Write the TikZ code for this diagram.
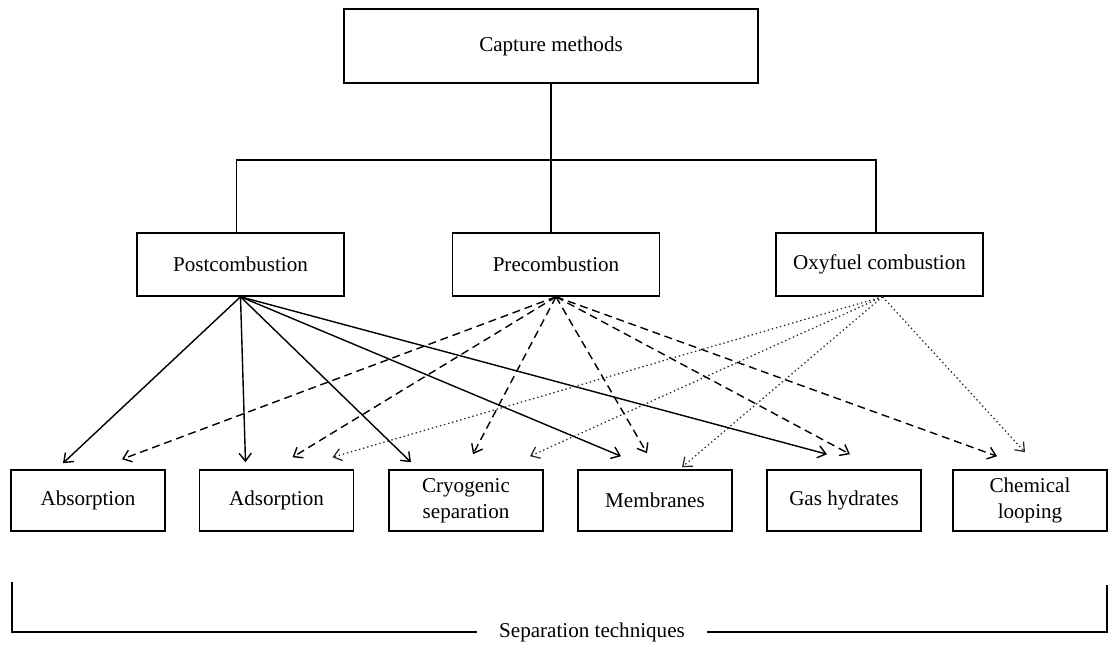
\documentclass[tikz,border=0pt]{standalone}
\usepackage{fontspec}
\setmainfont{Liberation Serif}
\usetikzlibrary{arrows.meta}

\begin{document}
\begin{tikzpicture} [x=0.02cm, y=-0.02cm, align=center, font=\fontsize{12}{15}\selectfont,
  box/.style={draw, line width=0.9pt, inner sep=0pt},
  capbox/.style={box, minimum width=8.28cm, minimum height=1.48cm},
  midbox/.style={box, minimum width=4.14cm, minimum height=1.26cm},
  lowbox/.style={box, minimum width=3.08cm, minimum height=1.22cm},
  post line/.style={->, line width=0.8pt},
  pre line/.style={->, line width=0.8pt, dash pattern=on 4.5pt off 2.8pt},
  oxy line/.style={->, line width=0.7pt, black!85, dash pattern=on 0.8pt off 1.6pt},
  >={Straight Barb[length=4.5pt, width=7pt]}]
\useasboundingbox (0, 0) rectangle (1108, 646);

\path (551, 46) node[capbox] (cap) {Capture methods}
      (240.5, 264.5) node[midbox] (post) {Postcombustion}
      (556, 264.5) node[midbox] (pre) {Precombustion}
      (879.5, 264.5) node[midbox] (oxy) {Oxyfuel combustion};

\path (88, 500.5) node[lowbox] (absorp) {Absorption}
      (276.5, 500.5) node[lowbox] (adsorp) {Adsorption}
      (466, 500.5) node[lowbox] (cryo) {Cryogenic\\separation}
      (655, 500.5) node[lowbox] (membr) {Membranes}
      (844, 500.5) node[lowbox] (gashyd) {Gas hydrates}
      (1030, 500.5) node[lowbox] (chemloop) {Chemical\\looping};

% tree of capture methods
\draw[line width=0.9pt] (cap.south) -- ++(0, 76) coordinate (fork);
\draw[line width=0.9pt] ([xshift=-0.08cm]post.north) |- (fork) -| ([xshift=-0.07cm]oxy.north);
\draw[line width=0.9pt] (fork) -- (fork |- pre.north);

% postcombustion
\draw[post line] (post.south) to ([shift={(-25, -6)}]absorp.north);
\draw[post line] (post.south) to ([shift={(-31, -7)}]adsorp.north);
\draw[post line] (post.south) to ([shift={(-55, -7)}]cryo.north);
\draw[post line] (post.south) to ([shift={(-34, -13)}]membr.north);
\draw[post line] (post.south) to ([shift={(-17, -15)}]gashyd.north);

% precombustion
\draw[pre line] (pre.south) to ([shift={(34, -10)}]absorp.north);
\draw[pre line] (pre.south) to ([shift={(16, -12)}]adsorp.north);
\draw[pre line] (pre.south) to ([shift={(7, -15)}]cryo.north);
\draw[pre line] (pre.south) to ([shift={(-8, -16)}]membr.north);
\draw[pre line] (pre.south) to ([shift={(6, -15)}]gashyd.north);
\draw[pre line] (pre.south) to ([shift={(-33, -13)}]chemloop.north);

% oxyfuel
\draw[oxy line] ([xshift=0.06cm]oxy.south) to ([shift={(56, -12)}]adsorp.north);
\draw[oxy line] ([xshift=0.06cm]oxy.south) to ([shift={(64, -13)}]cryo.north);
\draw[oxy line] ([xshift=0.06cm]oxy.south) to ([shift={(27, -2)}]membr.north);
\draw[oxy line] ([xshift=0.06cm]oxy.south) to ([shift={(-5, -17)}]chemloop.north);

% separation techniques
\coordinate (brleft) at (12, 582);
\coordinate (brright) at (1107, 585);
\path (592, 632) node[inner xsep=0.44cm, inner ysep=0pt] (septech) {Separation techniques};
\draw[line width=0.8pt] (septech.west) -| (brleft);
\draw[line width=0.8pt] (septech.east) -| (brright);

\end{tikzpicture}
\end{document}
